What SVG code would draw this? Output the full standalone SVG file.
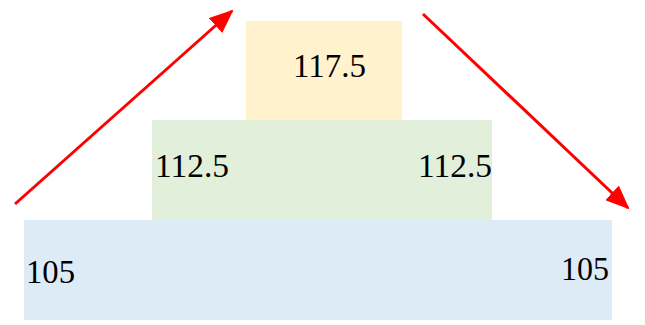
<svg xmlns="http://www.w3.org/2000/svg" width="645" height="325" viewBox="0 0 645 325">
<style>
.t{font-family:"Liberation Serif","Times New Roman",serif;font-size:34px;fill:#000}
.c{stroke:#FF0000;stroke-width:3;fill:none}
</style>
<defs>
<marker id="ah" markerUnits="userSpaceOnUse" markerWidth="24" markerHeight="20" viewBox="0 0 24 20" refX="22" refY="10" orient="auto">
<path d="M0,0 L24,10 L0,20 Z" fill="#FF0000"/>
</marker>
</defs>
<rect width="645" height="325" fill="#fff"/>
<g id="node-top">
<rect x="246" y="21" width="156" height="99" fill="#FFF2CC"/>
<text class="t" x="293" y="77" textLength="73" lengthAdjust="spacingAndGlyphs">117.5</text>
</g>
<g id="node-middle">
<rect x="152" y="120" width="340" height="100" fill="#E2EFDA"/>
<text class="t" x="155" y="177" textLength="74" lengthAdjust="spacingAndGlyphs">112.5</text>
<text class="t" x="418" y="177" textLength="74" lengthAdjust="spacingAndGlyphs">112.5</text>
</g>
<g id="node-bottom">
<rect x="24" y="220" width="588" height="100" fill="#DDEBF7"/>
<text class="t" x="26" y="283" textLength="49" lengthAdjust="spacingAndGlyphs">105</text>
<text class="t" x="561" y="280" textLength="48" lengthAdjust="spacingAndGlyphs">105</text>
</g>
<g id="connectors">
<line class="c" x1="15" y1="204" x2="232" y2="11" marker-end="url(#ah)"/>
<line class="c" x1="423" y1="14" x2="628" y2="208" marker-end="url(#ah)"/>
</g>
</svg>
